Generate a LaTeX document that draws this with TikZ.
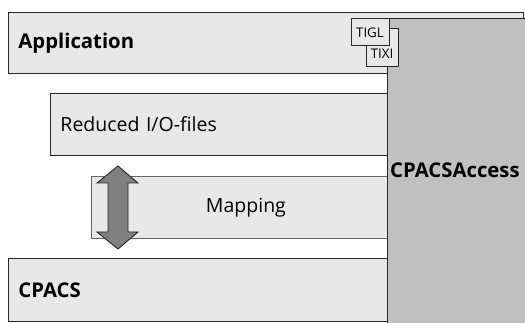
\documentclass[tikz,border=0pt]{standalone}
\usepackage{fontspec}
\setmainfont{Open Sans}
\usetikzlibrary{positioning}

\definecolor{layerfill}{HTML}{E8E8E8}
\definecolor{accessfill}{HTML}{C0C0C0}
\definecolor{arrowfill}{HTML}{808080}

\begin{document}
\begin{tikzpicture}[x=1pt,y=-1pt,
    layer/.style={rectangle,draw=black!85,fill=layerfill,line width=0.9pt,anchor=north west,inner xsep=10pt,inner ysep=0pt,align=left,font=\fontsize{19.5}{23}\selectfont},
    boldlayer/.style={layer,font=\fontsize{20.3}{24}\selectfont\bfseries},
    lib/.style={rectangle,draw=black!85,fill=layerfill,line width=0.9pt,inner sep=0pt,font=\fontsize{13.3}{15}\selectfont},
    bigarrow/.style={draw=black!85,fill=arrowfill,line width=0.9pt,line join=miter}
]
\useasboundingbox (0,0) rectangle (525,323);
\node[boldlayer,text width=495,minimum height=61] (app) at (8,12) {Application};
\node[layer,text width=330,minimum height=62] (reduced) at (50,93) {Reduced I/O-files};
\node[layer,text width=289,minimum height=62,align=center,draw=black!60] (mapping) at (91,176) {Mapping};
\node[boldlayer,text width=372,minimum height=63] (cpacs) at (8,258) {CPACS};
% access layer on the right side
\node[rectangle,draw=black!85,fill=accessfill,line width=0.9pt,anchor=north west,minimum width=160,minimum height=330] (access) at (387,18) {};
\node[anchor=base west,inner sep=0pt,font=\fontsize{20.3}{24}\selectfont\bfseries] (accesstext) at (390,178) {CPACSAccess};
\node[lib,minimum width=32,text height=31,text depth=7] (tixi) at (382,47) {TIXI};
\node[lib,minimum width=38,text height=20,text depth=7] (tigl) at (370,31.5) {TIGL};
\draw[bigarrow] (118,166) -- (138,183) -- (128,183) -- (128,232) -- (138,232) -- (118,249)
  -- (97,232) -- (108,232) -- (108,183) -- (97,183) -- cycle;
\end{tikzpicture}
\end{document}
